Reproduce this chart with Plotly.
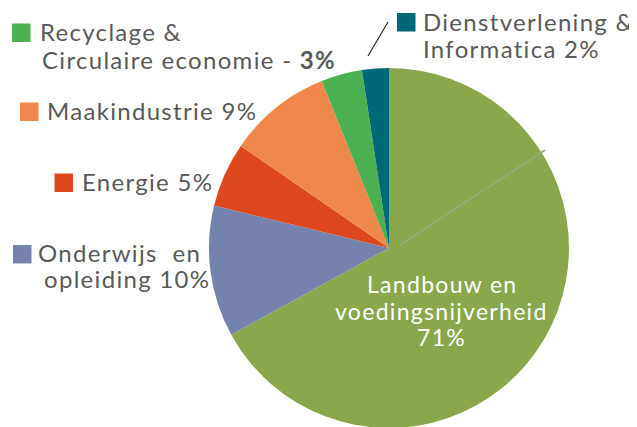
import plotly.graph_objects as go

W, H = 637, 427
OFF = 8  # page body margin offset in the browser

# Data (slice sizes as drawn; label percentages as printed)
categories = ["Landbouw en voedingsnijverheid", "Onderwijs en opleiding", "Energie",
              "Maakindustrie", "Recyclage & Circulaire economie", "Dienstverlening & Informatica"]
slice_values = [67.0, 11.8, 5.8, 9.3, 3.7, 2.4]
label_pct = ["71%", "10%", "5%", "9%", "3%", "2%"]
colors = ["#8AA84B", "#7682AE", "#DD481E", "#F0884C", "#4BB050", "#006876"]

TEXT = "#595959"
FONT = "Lato"

fig = go.Figure(go.Pie(
    labels=categories, values=slice_values, sort=False, direction="clockwise",
    rotation=0, marker=dict(colors=colors, line=dict(width=0)),
    textinfo="none", hoverinfo="label+percent", showlegend=False,
    domain=dict(x=[0.3155, 0.8807], y=[0.0164, 0.8595]),
))


def px(x):
    return (x - OFF) / W


def py(y):
    return 1 - (y - OFF) / H


def ls(t, sp):
    return '<span style="letter-spacing:%spx">%s</span>' % (sp, t)


# outside label lines: (text, left x, cap-middle y)
lines = [
    ("Recyclage &", 40.5, 33.5),
    ("Circulaire economie - <b>" + label_pct[4] + "</b>", 42.5, 60.5),
    ("Maakindustrie " + label_pct[3], 47.5, 111.5),
    ("Energie " + label_pct[2], 82.5, 182.5),
    ("Onderwijs  en", 38.5, 254),
    ("opleiding " + label_pct[1], 44.5, 280),
    ("Dienstverlening &", 423.5, 22.5),
    ("Informatica " + label_pct[5], 423.5, 50),
]
# squares: (slice index, left x, top y)
squares = [(4, 12, 23.5), (3, 20, 102.5), (2, 54.5, 173.5), (1, 13, 245), (5, 397, 13)]

annotations = []
shapes = []
for txt, tx, ty in lines:
    annotations.append(dict(
        x=px(tx - 3), y=py(ty - 1.5), xref="paper", yref="paper", xanchor="left",
        yanchor="middle", text=ls(txt, 1.3), showarrow=False, align="left",
        font=dict(family=FONT, size=24, color=TEXT)))
for idx, sx, sy in squares:
    shapes.append(dict(type="rect", xref="paper", yref="paper",
                       x0=px(sx), x1=px(sx + 18.5), y0=py(sy), y1=py(sy + 18.5),
                       fillcolor=colors[idx], line=dict(width=0)))

# leader line for the small slice label
shapes.append(dict(type="line", xref="paper", yref="paper",
                   x0=px(368), y0=py(56), x1=px(388), y1=py(22),
                   line=dict(color="#262626", width=1.2)))
# faint seam inside the large slice
shapes.append(dict(type="line", xref="paper", yref="paper",
                   x0=px(400), y0=py(245), x1=px(545), y1=py(150),
                   line=dict(color="#93AD74", width=2)))

# inside label
inside = [("Landbouw en", 285), ("voedingsnijverheid", 312), (label_pct[0], 338.5)]
for txt, ty in inside:
    annotations.append(dict(
        x=px(441.7), y=py(ty - 1.5), xref="paper", yref="paper", xanchor="center",
        yanchor="middle", text=ls(txt, 1.3), showarrow=False, align="center",
        font=dict(family=FONT, size=23, color="white")))

fig.update_layout(
    width=W, height=H, margin=dict(l=0, r=0, t=0, b=0),
    paper_bgcolor="white", plot_bgcolor="white",
    annotations=annotations, shapes=shapes,
)

fig.write_html("out.html")
